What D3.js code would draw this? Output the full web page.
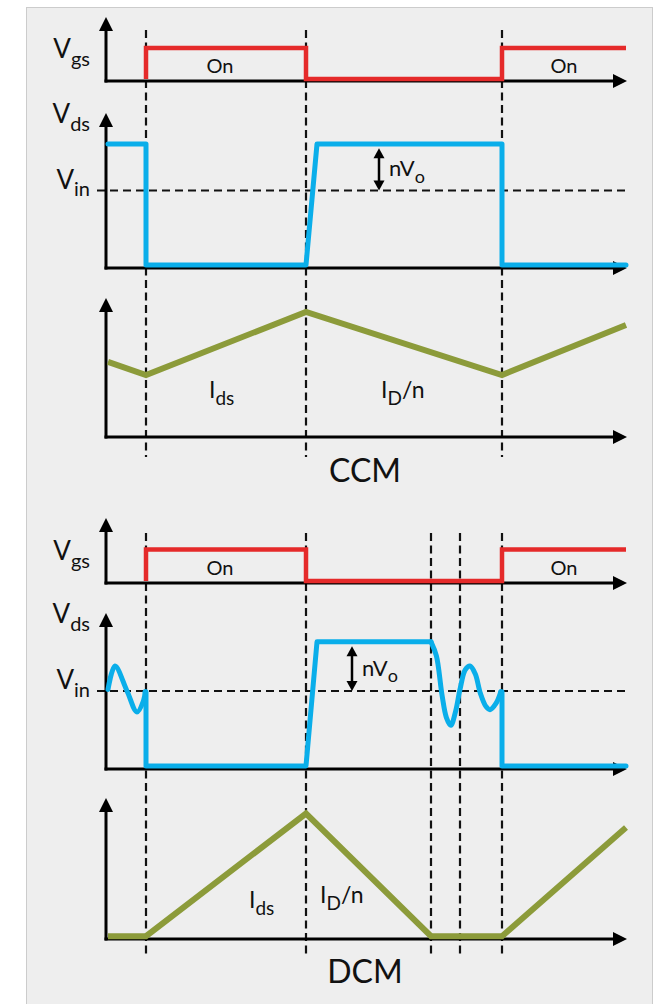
<!DOCTYPE html>
<html>
<head>
<meta charset="utf-8">
<script src="https://cdn.jsdelivr.net/npm/d3@7"></script>
<style>
  body { margin: 0; background: #fff; }
  text { font-family: Lato, "Noto Sans", sans-serif; fill: #111; }
</style>
</head>
<body>
<div id="chart"></div>
<script>
// time runs 0..130 (one switching period plus a bit), levels are relative units

// edges where the dashed guides sit
var ccmEdges = [10, 50, 99];
var dcmEdges = [10, 50, 81.25, 88.5, 99];

// gate drive, same for both modes
var vgsWave = [[10,0.06],[10,1.03],[50,1.03],[50,0.06],[99,0.06],[99,1.03],[130,1.03]];

// drain-source voltage (Vin = 1)
var vdsCcm = [[0.5,1.6],[10,1.6],[10,0.04],[50,0.04],[52.75,1.6],[99,1.6],[99,0.04],[130,0.04]];
var vdsDcmRing1 = [[0.5,1.02],[2.25,1.32],[5.25,1.0],[7.75,0.73],[9.4,0.88],[9.8,0.99]];
var vdsDcmFlat1 = [[9.8,0.99],[10,0.99],[10,0.04],[50,0.04],[52.75,1.63],[81.25,1.63]];
var vdsDcmRing2 = [[81.25,1.63],[82.6,1.45],[84,0.95],[85.1,0.66],[86.2,0.56],[87.4,0.74],[88.5,1.02],[89.8,1.27],[91,1.32],[92.3,1.22],[93.6,0.97],[95,0.8],[96,0.76],[97.5,0.84],[98.7,0.99]];
var vdsDcmFlat2 = [[98.7,0.99],[99,0.99],[99,0.04],[130,0.04]];
var vinLevel = 1;
var nvoTop = [1.57, 1.6];   // ccm, dcm upper end of the nVo arrow

// currents (0..10)
var idCcm = [[0.5,5.4],[10,4.46],[50,9.0],[99,4.46],[130,8.06]];
var idDcm = [[0.5,0.2],[10,0.2],[50,8.9],[81.25,0.2],[99,0.2],[130,7.9]];

var modes = ["CCM", "DCM"];

var W = 661, H = 1004;
var svg = d3.select("#chart").append("svg")
  .attr("width", W).attr("height", H);

svg.append("rect")
  .attr("x", 26.5).attr("y", 7.5)
  .attr("width", 626).attr("height", H)
  .attr("fill", "#eeeeee").attr("stroke", "#cccccc").attr("stroke-width", 1);

var x = d3.scaleLinear().domain([0, 130]).range([106, 626]);

var RED = "#e52a2a", BLUE = "#0aaeea", GREEN = "#8c9b3a";

// pixel layout of each mode block
var layout = [
  { vgs: [81, 17], vds: [268, 113], id: [437, 298], dash: [30, 457], title: 482,
    edges: ccmEdges, id1: idCcm },
  { vgs: [583, 518], vds: [769, 613], id: [939, 798], dash: [533, 957], title: 983,
    edges: dcmEdges, id1: idDcm }
];

function axes(g, base, top) {
  g.append("line").attr("x1", x(0)).attr("x2", x(0))
    .attr("y1", base + 1.5).attr("y2", top + 10)
    .attr("stroke", "#000").attr("stroke-width", 3);
  g.append("line").attr("x1", x(0) - 1.5).attr("x2", x(130) - 10)
    .attr("y1", base).attr("y2", base)
    .attr("stroke", "#000").attr("stroke-width", 3);
  g.append("path")
    .attr("d", "M" + x(0) + "," + top + "L" + (x(0) - 7) + "," + (top + 14) + "L" + (x(0) + 7) + "," + (top + 14) + "Z")
    .attr("fill", "#000");
  g.append("path")
    .attr("d", "M" + (x(130) + 1) + "," + base + "L" + (x(130) - 13) + "," + (base - 7) + "L" + (x(130) - 13) + "," + (base + 7) + "Z")
    .attr("fill", "#000");
}

function sym(g, px, py, main, sub, size, subSize, anchor) {
  var t = g.append("text").attr("x", px).attr("y", py)
    .attr("text-anchor", anchor || "start")
    .style("font-size", size + "px");
  t.append("tspan").text(main);
  t.append("tspan").attr("dy", size * 0.3).style("font-size", subSize + "px").text(sub);
  return t;
}

layout.forEach(function(L, i) {
  var g = svg.append("g");
  var yG = d3.scaleLinear().domain([0, 2]).range(L.vgs);
  var yV = d3.scaleLinear().domain([0, 2]).range(L.vds);
  var yI = d3.scaleLinear().domain([0, 10]).range(L.id);
  var line = function(ys, curve) {
    return d3.line().x(function(d) { return x(d[0]); })
      .y(function(d) { return ys(d[1]); }).curve(curve || d3.curveLinear);
  };

  // dashed guides
  g.selectAll(".guide").data(L.edges).enter().append("line")
    .attr("x1", function(d) { return x(d); }).attr("x2", function(d) { return x(d); })
    .attr("y1", L.dash[0]).attr("y2", L.dash[1])
    .attr("stroke", "#111").attr("stroke-width", 2.2).attr("stroke-dasharray", "8,4.5");

  // Vin reference
  g.append("line").attr("x1", 97).attr("x2", 627)
    .attr("y1", yV(vinLevel)).attr("y2", yV(vinLevel))
    .attr("stroke", "#111").attr("stroke-width", 2.2).attr("stroke-dasharray", "8,5");

  axes(g, L.vgs[0], L.vgs[1]);
  axes(g, L.vds[0], L.vds[1]);
  axes(g, L.id[0], L.id[1]);

  // Vgs
  g.append("path").datum(vgsWave).attr("d", line(yG))
    .attr("fill", "none").attr("stroke", RED).attr("stroke-width", 4.5);

  // Vds
  var vdsParts = i == 0 ? [[vdsCcm, d3.curveLinear]] :
    [[vdsDcmRing1, d3.curveCatmullRom.alpha(0.5)], [vdsDcmFlat1, d3.curveLinear],
     [vdsDcmRing2, d3.curveCatmullRom.alpha(0.5)], [vdsDcmFlat2, d3.curveLinear]];
  vdsParts.forEach(function(p) {
    g.append("path").datum(p[0]).attr("d", line(yV, p[1]))
      .attr("fill", "none").attr("stroke", BLUE).attr("stroke-width", 5)
      .attr("stroke-linejoin", "round").attr("stroke-linecap", "round");
  });

  // current
  g.append("path").datum(L.id1).attr("d", line(yI))
    .attr("fill", "none").attr("stroke", GREEN).attr("stroke-width", 6)
    .attr("stroke-linejoin", "miter");

  // nVo arrow
  var ax = i == 0 ? 379 : 352;
  var yT = yV(nvoTop[i]) + 2, yB = yV(vinLevel);
  g.append("line").attr("x1", ax).attr("x2", ax).attr("y1", yT + 6).attr("y2", yB - 6)
    .attr("stroke", "#000").attr("stroke-width", 2.5);
  g.append("path").attr("d", "M" + ax + "," + yT + "L" + (ax - 5.5) + "," + (yT + 10) + "L" + (ax + 5.5) + "," + (yT + 10) + "Z").attr("fill", "#000");
  g.append("path").attr("d", "M" + ax + "," + yB + "L" + (ax - 5.5) + "," + (yB - 10) + "L" + (ax + 5.5) + "," + (yB - 10) + "Z").attr("fill", "#000");
  sym(g, ax + 10, (yT + yB) / 2 + 7, "nV", "o", 22, 18);

  // labels on the left
  sym(g, 90, L.vgs[0] - 23, "V", "gs", 26, 20, "end");
  sym(g, 90, L.vds[1] + 10, "V", "ds", 26, 20, "end");
  sym(g, 90, yV(vinLevel) - 2, "V", "in", 26, 20, "end");

  // On labels
  g.selectAll(".on").data([[10, 50], [99, 130]]).enter().append("text")
    .attr("x", function(d) { return (x(d[0]) + x(d[1])) / 2 + (d[1] == 130 ? 0 : -6); })
    .attr("y", L.vgs[0] - 8)
    .attr("text-anchor", "middle").style("font-size", "20px").text("On");

  // current labels
  if (i == 0) {
    sym(g, 209, 398, "I", "ds", 23, 19);
    sym(g, 381, 398, "I", "D", 23, 19).append("tspan").attr("dy", -7).style("font-size", "23px").text("/n");
  } else {
    sym(g, 249, 908, "I", "ds", 23, 19);
    sym(g, 320, 903, "I", "D", 23, 19).append("tspan").attr("dy", -7).style("font-size", "23px").text("/n");
  }

  g.append("text").attr("x", 365).attr("y", L.title)
    .attr("text-anchor", "middle").style("font-size", "32px").text(modes[i]);
});
</script>
</body>
</html>
